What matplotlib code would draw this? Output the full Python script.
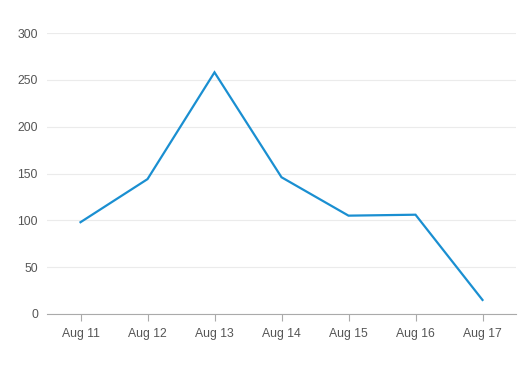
import numpy as np
import matplotlib.pyplot as plt

plt.rcParams['font.family'] = ['Liberation Sans', 'DejaVu Sans']

days = ['Aug 11', 'Aug 12', 'Aug 13', 'Aug 14', 'Aug 15', 'Aug 16', 'Aug 17']
values = [98, 144, 258, 146, 105, 106, 15]
yticks = [0, 50, 100, 150, 200, 250, 300]

W, H = 525, 366
fig = plt.figure(figsize=(W / 100, H / 100), dpi=100)
ax = fig.add_axes([47 / W, (H - 314) / H, (516 - 47) / W, (314 - 33) / H])

x = np.arange(len(days))
ax.plot(x, values, color='#1a8fd1', linewidth=1.6, solid_joinstyle='miter')

ax.set_xlim(-0.5, len(days) - 0.5)
ax.set_ylim(0, 300)
ax.set_xticks(x)
ax.set_xticklabels(days)
ax.set_yticks(yticks)
ax.grid(axis='y', color='#ebebeb', linewidth=0.8)
ax.set_axisbelow(True)

for s in ['top', 'right', 'left']:
    ax.spines[s].set_visible(False)
ax.spines['bottom'].set_color('#aaaaaa')
ax.spines['bottom'].set_linewidth(0.8)

ax.tick_params(axis='x', colors='#aaaaaa', length=5, width=0.8, pad=5,
               labelcolor='#555555', labelsize=8.8)
ax.tick_params(axis='y', length=0, pad=6.5, labelcolor='#555555', labelsize=8.8)

fig.savefig('out.png', dpi=100)
